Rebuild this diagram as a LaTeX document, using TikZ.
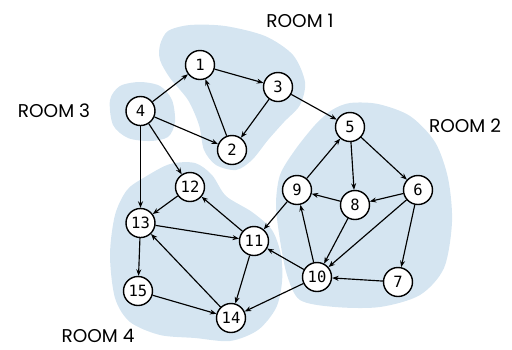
\documentclass[tikz,border=0pt]{standalone}
\usepackage{fontspec}
\usetikzlibrary{arrows.meta}
\newfontfamily\roomfont{Poppins}
\newfontfamily\numfont{DejaVu Sans Mono}
\definecolor{roomblue}{RGB}{213,229,241}
\tikzset{
  vertex/.style={circle, draw=black, fill=white, line width=1.4pt, minimum size=29pt, inner sep=0pt, font=\numfont\fontsize{15.5}{17}\selectfont},
  edge/.style={line width=1.15pt, -{Stealth[length=6.5pt,width=5pt]}},
  room/.style={fill=roomblue},
  roomlabel/.style={anchor=base, inner sep=0pt, font=\roomfont\fontsize{18.5}{20}\selectfont}
}
\begin{document}
\begin{tikzpicture}[x=1pt,y=-1pt]
\useasboundingbox (0,0) rectangle (512,349);
% rooms
\fill[room] plot[smooth cycle] coordinates {(160,45) (168,31) (190,25) (225,26) (265,36) (293,55) (305,82) (300,105) (284,122) (268,140) (252,160) (236,170) (216,165) (204,150) (199,125) (188,100) (170,78) (160,60)};
\fill[room] plot[smooth cycle] coordinates {(110,100) (120,86) (140,82) (160,86) (172,100) (175,122) (168,137) (150,141) (128,138) (113,125)};
\fill[room] plot[smooth cycle] coordinates {(145,177) (170,164) (195,163) (212,175) (226,196) (252,212) (272,230) (281,255) (282,282) (276,308) (258,330) (230,341) (195,338) (160,335) (130,322) (115,298) (110,255) (115,215) (127,190)};
\fill[room] plot[smooth cycle] coordinates {(332,110) (350,103) (378,104) (410,116) (435,142) (448,178) (452,222) (444,268) (420,295) (380,307) (335,307) (300,300) (287,275) (280,240) (276,205) (280,175) (295,150) (315,125)};

% room labels
\node[roomlabel] (room1) at (300,27) {ROOM 1};
\node[roomlabel] (room2) at (465,132) {ROOM 2};
\node[roomlabel] (room3) at (54,117) {ROOM 3};
\node[roomlabel] (room4) at (98,342) {ROOM 4};

% vertices
\node[vertex] (v1) at (200,65) {1};
\node[vertex] (v2) at (232,150) {2};
\node[vertex] (v3) at (278,87) {3};
\node[vertex] (v4) at (140.5,111) {4};
\node[vertex] (v5) at (350,127) {5};
\node[vertex] (v6) at (418,190) {6};
\node[vertex] (v7) at (398,282) {7};
\node[vertex] (v8) at (355,205) {8};
\node[vertex] (v9) at (297,190) {9};
\node[vertex] (v10) at (317,277) {10};
\node[vertex] (v11) at (254,241) {11};
\node[vertex] (v12) at (190,187) {12};
\node[vertex] (v13) at (140.5,223) {13};
\node[vertex] (v14) at (231,318) {14};
\node[vertex] (v15) at (138,291) {15};

% edges
\draw[edge] (v4) -- (v1);
\draw[edge] (v1) -- (v3);
\draw[edge] (v2) -- (v1);
\draw[edge] (v3) -- (v2);
\draw[edge] (v4) -- (v2);
\draw[edge] (v3) -- (v5);
\draw[edge] (v4) -- (v13);
\draw[edge] (v4) -- (v12);
\draw[edge] (v12) -- (v13);
\draw[edge] (v13) -- (v11);
\draw[edge] (v11) -- (v12);
\draw[edge] (v14) -- (v13);
\draw[edge] (v13) -- (v15);
\draw[edge] (v15) -- (v14);
\draw[edge] (v11) -- (v14);
\draw[edge] (v10) -- (v11);
\draw[edge] (v10) -- (v14);
\draw[edge] (v9) -- (v11);
\draw[edge] (v9) -- (v5);
\draw[edge] (v5) -- (v8);
\draw[edge] (v5) -- (v6);
\draw[edge] (v6) -- (v8);
\draw[edge] (v8) -- (v9);
\draw[edge] (v8) -- (v10);
\draw[edge] (v6) -- (v10);
\draw[edge] (v6) -- (v7);
\draw[edge] (v7) -- (v10);
\draw[edge] (v10) -- (v9);

\end{tikzpicture}
\end{document}
